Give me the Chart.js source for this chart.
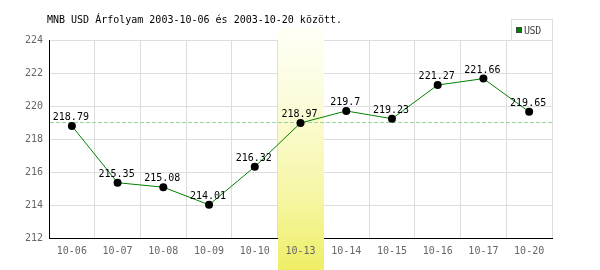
<!DOCTYPE html>
<html>
<head>
<meta charset="utf-8">
<script src="https://cdn.jsdelivr.net/npm/chart.js@4"></script>
<style>
    body { margin: 0; background: #fff; }
    #wrap { width: 600px; height: 270px; }
</style>
</head>
<body>
<div id="wrap"><canvas id="chart"></canvas></div>
<script>
const titleText = 'MNB USD Árfolyam 2003-10-06 és 2003-10-20 között.';
const days = ['10-06', '10-07', '10-08', '10-09', '10-10', '10-13', '10-14', '10-15', '10-16', '10-17', '10-20'];
const usdRates = [218.79, 215.35, 215.08, 214.01, 216.32, 218.97, 219.7, 219.23, 221.27, 221.66, 219.65];
const refLine = [219];
const highlightDay = ['10-13'];
const yTicks = [212, 214, 216, 218, 220, 222, 224];

const mono = 'DejaVu Sans Mono';

// yellow band behind the highlighted day, drawn over grid but under the line
const bandPlugin = {
    id: 'band',
    beforeDatasetsDraw(chart) {
        const x = chart.scales.x;
        const i = days.indexOf(highlightDay[0]);
        const half = (x.getPixelForValue(1) - x.getPixelForValue(0)) / 2;
        const cx = x.getPixelForValue(i);
        const ctx = chart.ctx;
        const top = 28, bottom = chart.height;
        const g = ctx.createLinearGradient(0, top, 0, bottom);
        g.addColorStop(0, '#fffff6');
        g.addColorStop(0.3, '#fcfcdc');
        g.addColorStop(0.7, '#f6f6a4');
        g.addColorStop(1, '#eeee66');
        ctx.save();
        ctx.fillStyle = g;
        ctx.fillRect(Math.round(cx - half), top, Math.round(half * 2), bottom - top);
        ctx.restore();
    }
};

// dashed reference line across the plot
const refPlugin = {
    id: 'refline',
    beforeDatasetsDraw(chart) {
        const y = Math.round(chart.scales.y.getPixelForValue(refLine[0])) + 0.5;
        const a = chart.chartArea;
        const ctx = chart.ctx;
        ctx.save();
        ctx.strokeStyle = '#99d699';
        ctx.lineWidth = 1;
        ctx.setLineDash([4, 2]);
        ctx.beginPath();
        ctx.moveTo(a.left + 1, y);
        ctx.lineTo(a.right, y);
        ctx.stroke();
        ctx.restore();
    }
};

// value labels, title and legend box
const textPlugin = {
    id: 'texts',
    afterDatasetsDraw(chart) {
        const ctx = chart.ctx;
        const meta = chart.getDatasetMeta(0);
        ctx.save();
        ctx.font = '10px "' + mono + '"';
        ctx.fillStyle = '#000';
        ctx.textAlign = 'center';
        ctx.textBaseline = 'alphabetic';
        meta.data.forEach((pt, i) => {
            ctx.fillText(String(usdRates[i]), pt.x - 1, pt.y - 6);
        });
        ctx.restore();
    },
    afterDraw(chart) {
        const ctx = chart.ctx;
        ctx.save();
        ctx.font = '10px "' + mono + '"';
        ctx.fillStyle = '#000';
        ctx.textAlign = 'left';
        ctx.textBaseline = 'alphabetic';
        ctx.fillText(titleText, 47, 23);

        // legend
        ctx.fillStyle = '#fff';
        ctx.fillRect(511, 19, 41, 21);
        ctx.strokeStyle = '#dddddd';
        ctx.lineWidth = 1;
        ctx.strokeRect(511.5, 19.5, 41, 21);
        ctx.fillStyle = '#008000';
        ctx.fillRect(516, 27, 6, 6);
        ctx.strokeStyle = '#335533';
        ctx.strokeRect(516.5, 27.5, 5, 5);
        ctx.fillStyle = '#444';
        ctx.letterSpacing = '-0.4px';
        ctx.fillText(chart.data.datasets[0].label, 524, 34);
        ctx.restore();
    }
};

new Chart(document.getElementById('chart'), {
    type: 'line',
    data: {
        labels: days,
        datasets: [{
            label: 'USD',
            data: usdRates,
            borderColor: '#008000',
            borderWidth: 1,
            pointBackgroundColor: '#000',
            pointBorderColor: '#000',
            pointBorderWidth: 0,
            pointRadius: 4,
            tension: 0
        }]
    },
    options: {
        responsive: true,
        maintainAspectRatio: false,
        animation: false,
        layout: {padding: {left: 0, right: 48, top: 40, bottom: 0}},
        plugins: {
            legend: {display: false},
            tooltip: {enabled: false}
        },
        scales: {
            x: {
                offset: true,
                afterFit: (s) => { s.height = 32; },
                grid: {offset: true, color: '#dddddd', drawTicks: false},
                border: {color: '#000', width: 1},
                ticks: {
                    z: 1,
                    padding: 7,
                    color: '#666',
                    font: {family: mono, size: 10},
                    maxRotation: 0,
                    autoSkip: false
                }
            },
            y: {
                min: yTicks[0],
                max: yTicks[yTicks.length - 1],
                afterFit: (s) => { s.width = 49; },
                afterBuildTicks: (s) => { s.ticks = yTicks.map(v => ({value: v})); },
                grid: {color: '#dddddd', drawTicks: false},
                border: {color: '#000', width: 1},
                ticks: {
                    padding: 6,
                    color: '#666',
                    font: {family: mono, size: 10}
                }
            }
        }
    },
    plugins: [bandPlugin, refPlugin, textPlugin]
});
</script>
</body>
</html>
